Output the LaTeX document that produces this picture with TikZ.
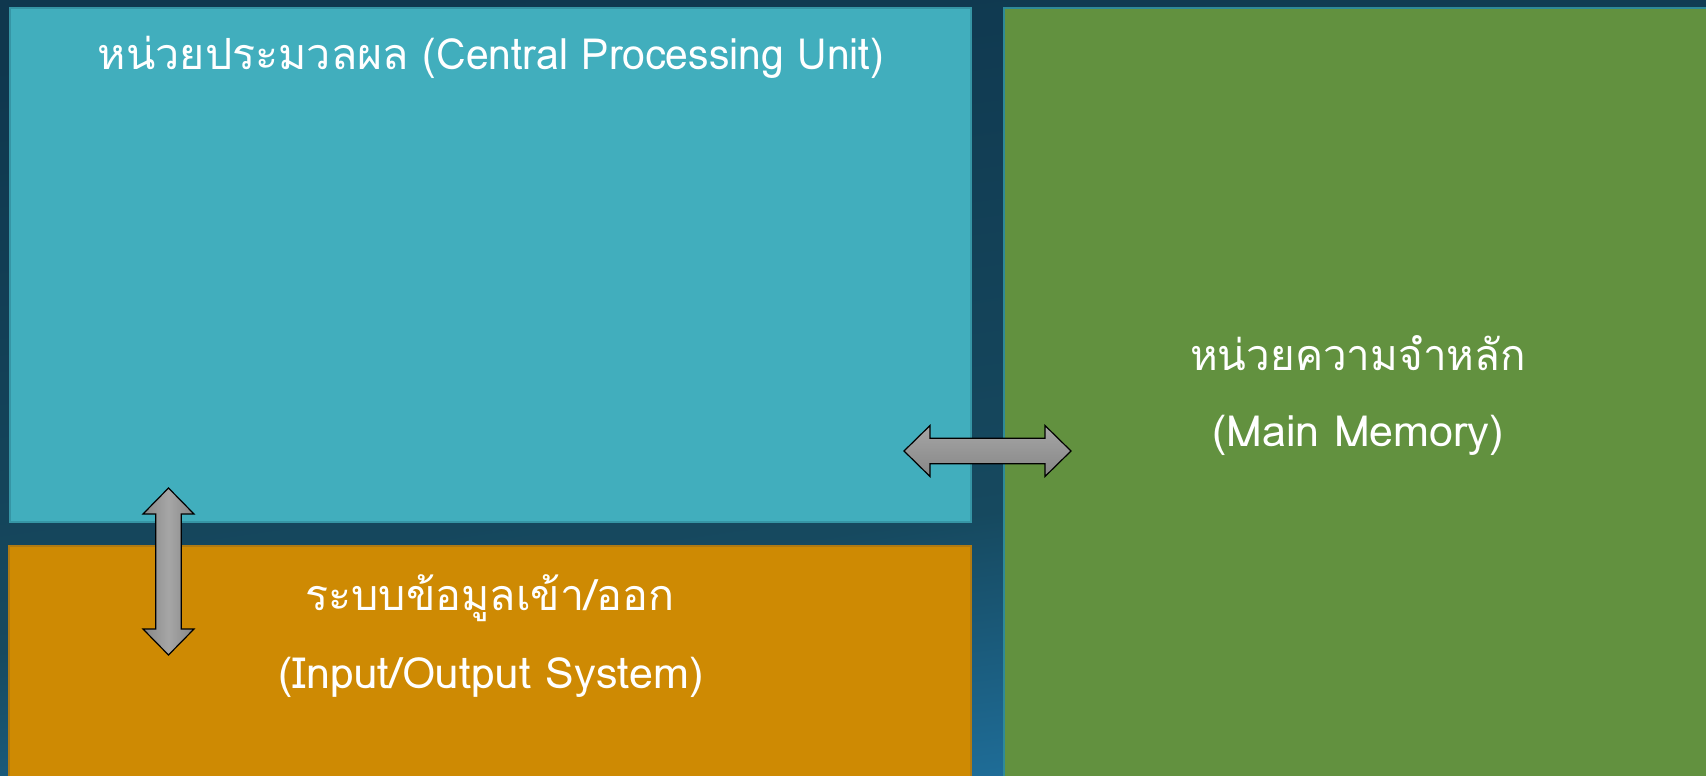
\documentclass[tikz,border=0pt]{standalone}
\usepackage{fontspec}
\newfontfamily\thaifont[Script=Thai]{Loma}
\usetikzlibrary{calc}
\definecolor{bgtop}{HTML}{0F374E}
\definecolor{bgmid}{HTML}{16495F}
\definecolor{bgbot}{HTML}{2072A0}
\definecolor{cpufill}{HTML}{41AEBD}
\definecolor{cpuedge}{HTML}{3695A5}
\definecolor{memfill}{HTML}{62913F}
\definecolor{memedge}{HTML}{2F8A98}
\definecolor{iofill}{HTML}{CE8A03}
\definecolor{ioedge}{HTML}{B07A12}
\definecolor{arrowlight}{HTML}{A6A6A6}
\definecolor{arrowdark}{HTML}{868686}
% backdrop: dark at the top, turning blue towards the bottom
% (the shaded area spans 25bp..75bp of the 100bp shading)
\pgfdeclareverticalshading{panelshade}{100bp}{color(0bp)=(bgbot); color(25bp)=(bgbot); color(42bp)=(bgmid); color(75bp)=(bgtop); color(100bp)=(bgtop)}
\tikzset{
  unitbox/.style={line width=2.5pt},
  label/.style={text=white, font=\thaifont\fontsize{43}{50}\selectfont, inner sep=0pt, anchor=base},
  blockarrow/.style={draw=black, line width=1.2pt, line join=miter},
}
\begin{document}
\begin{tikzpicture}[x=1pt, y=-1pt]
  % background panel
  \shade[shading=panelshade, shading angle=8] (0,0) rectangle (1706,776);
  \useasboundingbox (0,0) rectangle (1706,776);

  % the three units
  \draw[unitbox, fill=cpufill, draw=cpuedge] (10,8) rectangle (971,522);
  \draw[unitbox, fill=memfill, draw=memedge] (1004,8) rectangle (1712,784);
  \draw[unitbox, fill=iofill, draw=ioedge] (9,546) rectangle (971,784);
  \fill[memfill] (1005.5,9.5) rectangle (1706,776);

  % labels
  \node[label] (cpu) at (491,70) {หน่วยประมวลผล\hspace{14pt}\scalebox{0.95}[1]{(Central Processing Unit)}};
  \node[label] (mem1) at (1358,370) {\scalebox{0.98}[1]{หน่วยความจำหลัก}};
  \node[label] (mem2) at (1358,446) {(Main Memory)};
  \node[label] (io1) at (490,610) {ระบบข้อมูลเข้า/ออก};
  \node[label] (io2) at (491,688) {(Input/Output System)};

  % CPU <-> memory bus arrow
  \coordinate (hA) at (904,451);
  \coordinate (hB) at (1071,451);
  \shade[top color=arrowlight, bottom color=arrowdark, blockarrow]
    (hA) -- ++(26,-25.5) -- ++(0,12.7) -- ($(hB)+(-26,-12.8)$) -- ++(0,-12.7)
    -- (hB) -- ++(-26,25.5) -- ++(0,-12.7) -- ($(hA)+(26,12.8)$) -- ++(0,12.7) -- cycle;

  % CPU <-> I/O arrow
  \coordinate (vA) at (168.5,488);
  \coordinate (vB) at (168.5,655);
  \shade[left color=arrowdark, right color=arrowdark, middle color=arrowlight, blockarrow]
    (vA) -- ++(25.5,26) -- ++(-12.7,0) -- ($(vB)+(12.8,-26)$) -- ++(12.7,0)
    -- (vB) -- ++(-25.5,-26) -- ++(12.7,0) -- ($(vA)+(-12.8,26)$) -- ++(-12.7,0) -- cycle;
\end{tikzpicture}
\end{document}
